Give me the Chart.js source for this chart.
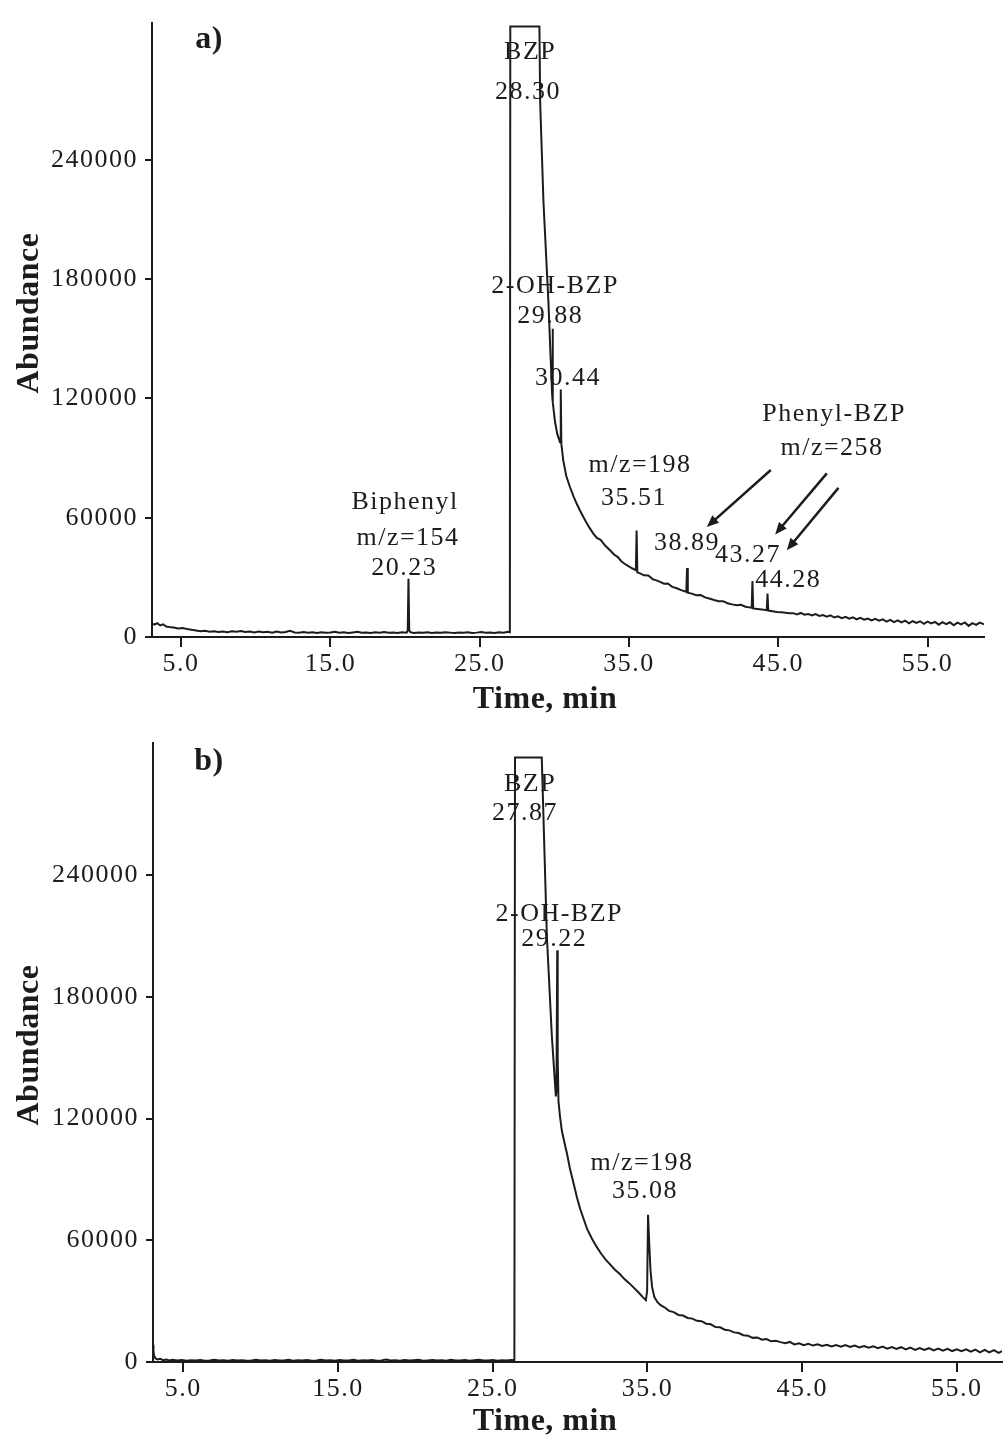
<!DOCTYPE html>
<html>
<head>
<meta charset="utf-8">
<script src="https://cdn.jsdelivr.net/npm/chart.js@4.4.1/dist/chart.umd.min.js"></script>
<style>
  body { margin: 0; background: #fff; }
  canvas { display: block; }
</style>
</head>
<body>
<canvas id="chart-a" width="1004" height="720"></canvas>
<canvas id="chart-b" width="1004" height="719"></canvas>
<script>
// tick labels
const xTicks = [5, 15, 25, 35, 45, 55];
const yTicks = [0, 60000, 120000, 180000, 240000];

// panel a) retention time (min) and abundance
const timeA = [
  3.05, 3.2, 3.4, 3.6, 3.8, 4.0, 4.2, 4.5, 4.8, 5.1,
  5.4, 5.7, 6.0, 6.3, 6.6, 6.9, 7.2, 7.5, 7.8, 8.1,
  8.4, 8.7, 9.0, 9.3, 9.6, 9.9, 10.2, 10.5, 10.8, 11.1,
  11.4, 11.7, 12.0, 12.3, 12.6, 12.9, 13.2, 13.5, 13.8, 14.1,
  14.4, 14.7, 15.0, 15.3, 15.6, 15.9, 16.2, 16.5, 16.8, 17.1,
  17.4, 17.7, 18.0, 18.3, 18.6, 18.9, 19.2, 19.5, 19.8, 20.1,
  20.18, 20.23, 20.28, 20.35, 20.6, 20.9, 21.2, 21.5, 21.8, 22.1,
  22.4, 22.7, 23.0, 23.3, 23.6, 23.9, 24.2, 24.5, 24.8, 25.1,
  25.4, 25.7, 26.0, 26.3, 26.6, 26.9, 27.02, 27.05, 29.0, 29.05,
  29.27, 29.6, 29.78, 29.85, 29.88, 29.91, 30.05, 30.2, 30.38, 30.43,
  30.47, 30.6, 30.8, 31.05, 31.3, 31.5, 31.72, 31.9, 32.1, 32.35,
  32.6, 32.85, 33.1, 33.4, 33.73, 34.0, 34.25, 34.5, 34.85, 35.1,
  35.3, 35.46, 35.51, 35.56, 35.78, 36.0, 36.3, 36.6, 36.8, 37.08,
  37.35, 37.6, 37.9, 38.2, 38.5, 38.84, 38.89, 38.94, 39.2, 39.5,
  39.8, 40.1, 40.43, 40.7, 41.0, 41.3, 41.6, 41.9, 42.22, 42.5,
  42.8, 43.05, 43.22, 43.27, 43.32, 43.6, 43.9, 44.23, 44.28, 44.33,
  44.6, 44.9, 45.2, 45.5, 45.75, 46.0, 46.25, 46.5, 46.75, 47.0,
  47.25, 47.5, 47.75, 48.0, 48.25, 48.5, 48.75, 49.0, 49.25, 49.5,
  49.75, 50.0, 50.25, 50.5, 50.75, 51.0, 51.25, 51.5, 51.75, 52.0,
  52.25, 52.5, 52.75, 53.0, 53.25, 53.5, 53.75, 54.0, 54.25, 54.5,
  54.75, 55.0, 55.25, 55.5, 55.75, 56.0, 56.25, 56.5, 56.75, 57.0,
  57.25, 57.5, 57.75, 58.0, 58.25, 58.5, 58.78
];
const abundanceA = [
  6800, 6200, 6900, 5800, 6400, 5300, 5000, 4800, 4300, 4500,
  4000, 3600, 3300, 2900, 3100, 2600, 2900, 2500, 2800, 2400,
  2900, 2700, 3000, 2500, 2800, 2300, 2700, 2400, 2600, 2200,
  2700, 2300, 2500, 3100, 2300, 2100, 2500, 2200, 2400, 2000,
  2400, 2100, 2300, 2600, 2100, 2400, 2000, 2300, 2600, 2100,
  2300, 2000, 2400, 2200, 2500, 2100, 2300, 2000, 2400, 2200,
  3200, 29300, 3500, 2400, 2000, 2300, 2100, 2400, 2000, 2300,
  2100, 2400, 2200, 2000, 2300, 2100, 2400, 2000, 2200, 2500,
  2100, 2300, 2000, 2400, 2200, 2600, 2400, 307000, 307000, 269000,
  219000, 169000, 135000, 122000, 155000, 118000, 108000, 102000, 98000, 124500,
  97000, 88700, 81000, 75300, 70500, 67000, 63600, 61000, 58200, 55000,
  52100, 49800, 48900, 46000, 43600, 41500, 40200, 38000, 36100, 35000,
  34200, 33600, 53600, 32500, 31900, 31000, 30900, 29000, 28600, 27700,
  26800, 26900, 25200, 24500, 23600, 22700, 34700, 22300, 21800, 21000,
  21100, 19900, 19200, 18600, 18000, 18000, 17000, 16400, 16000, 16200,
  15200, 14900, 14700, 28100, 14400, 14100, 13800, 13500, 21900, 13300,
  13000, 12600, 12500, 12200, 12000, 12000, 11400, 12100, 11200, 11600,
  10800, 11500, 10600, 11000, 10200, 10900, 9800, 10400, 9500, 10100,
  9200, 9900, 8900, 9600, 8700, 9300, 8300, 9100, 8200, 8900,
  7700, 8600, 7500, 8400, 7300, 8200, 6900, 8000, 7100, 7900,
  6600, 7700, 6800, 7600, 6200, 7500, 6500, 7400, 5900, 7200,
  6300, 7300, 5600, 7000, 6100, 7200, 6400
];

// panel b) retention time (min) and abundance
const timeB = [
  3.04, 3.07, 3.12, 3.2, 3.35, 3.5, 3.7, 3.9, 4.1, 4.3,
  4.6, 4.9, 5.2, 5.5, 5.8, 6.1, 6.4, 6.7, 7.0, 7.3,
  7.6, 7.9, 8.2, 8.5, 8.8, 9.1, 9.4, 9.7, 10.0, 10.3,
  10.6, 10.9, 11.2, 11.5, 11.8, 12.1, 12.4, 12.7, 13.0, 13.3,
  13.6, 13.9, 14.2, 14.5, 14.8, 15.1, 15.4, 15.7, 16.0, 16.3,
  16.6, 16.9, 17.2, 17.5, 17.8, 18.1, 18.4, 18.7, 19.0, 19.3,
  19.6, 19.9, 20.2, 20.5, 20.8, 21.1, 21.4, 21.7, 22.0, 22.3,
  22.6, 22.9, 23.2, 23.5, 23.8, 24.1, 24.4, 24.7, 25.0, 25.3,
  25.6, 25.9, 26.2, 26.4, 26.44, 28.17, 28.5, 28.82, 29.08, 29.12,
  29.17, 29.2, 29.25, 29.35, 29.47, 29.6, 29.7, 29.8, 30.0, 30.22,
  30.45, 30.66, 30.9, 31.1, 31.4, 31.7, 32.0, 32.3, 32.6, 32.9,
  33.2, 33.5, 33.8, 34.1, 34.4, 34.7, 34.9, 34.98, 35.04, 35.12,
  35.2, 35.3, 35.45, 35.65, 35.85, 36.1, 36.4, 36.7, 37.0, 37.3,
  37.6, 37.9, 38.2, 38.5, 38.8, 39.1, 39.4, 39.7, 40.0, 40.3,
  40.6, 40.9, 41.2, 41.5, 41.8, 42.1, 42.4, 42.7, 43.0, 43.3,
  43.6, 43.9, 44.2, 44.5, 44.8, 45.1, 45.4, 45.7, 46.0, 46.3,
  46.6, 46.9, 47.2, 47.5, 47.8, 48.1, 48.4, 48.7, 49.0, 49.3,
  49.6, 49.9, 50.2, 50.5, 50.8, 51.1, 51.4, 51.7, 52.0, 52.3,
  52.6, 52.9, 53.2, 53.5, 53.8, 54.1, 54.4, 54.7, 55.0, 55.3,
  55.6, 55.9, 56.2, 56.5, 56.8, 57.1, 57.4, 57.7, 57.92
];
const abundanceB = [
  8500, 5200, 2900, 1800, 1300, 1600, 900, 1200, 800, 1100,
  700, 1000, 600, 900, 700, 1000, 600, 800, 1100, 700,
  900, 600, 1000, 700, 900, 600, 800, 1100, 700, 900,
  600, 1000, 700, 800, 1100, 600, 900, 700, 1000, 600,
  800, 1100, 700, 900, 600, 1000, 800, 700, 1100, 600,
  900, 700, 1000, 600, 800, 1200, 700, 900, 600, 1000,
  700, 900, 1100, 600, 800, 1000, 700, 900, 600, 1100,
  800, 700, 1000, 600, 900, 1100, 700, 800, 1000, 600,
  900, 700, 1000, 900, 298000, 298000, 210000, 161000, 131000, 134000,
  203000, 150000, 128700, 121000, 114000, 109500, 106000, 102800, 95000, 88300,
  81000, 75300, 70000, 65600, 61000, 57000, 53500, 50500, 48000, 45500,
  43500, 41000, 39000, 36800, 34500, 32000, 30500, 35000, 72600, 58000,
  45000, 37000, 32000, 29500, 28000, 27000, 25200, 24600, 23200, 22900,
  21700, 21400, 20300, 20100, 18900, 18600, 17200, 17100, 15900, 15600,
  14600, 14300, 13200, 13000, 11900, 12100, 11000, 11300, 10200, 10500,
  9800, 9300, 9900, 8700, 9200, 8300, 9000, 8100, 8700, 7900,
  8500, 7700, 8400, 7600, 8300, 7400, 8100, 7200, 7900, 7000,
  7700, 6800, 7600, 6600, 7400, 6400, 7300, 6200, 7100, 6000,
  6900, 5900, 6800, 5700, 6600, 5600, 6500, 5400, 6300, 5300,
  6200, 5100, 6100, 4800, 6000, 4700, 5900, 4500, 5300
];

// peak annotations: text placed at (time, abundance)
const peakLabelsA = [
  { text: 'BZP', t: 28.38, v: 294000 },
  { text: '28.30', t: 28.24, v: 274000 },
  { text: '2-OH-BZP', t: 30.05, v: 176400 },
  { text: '29.88', t: 29.72, v: 161300 },
  { text: '30.44', t: 30.92, v: 130300 },
  { text: 'Biphenyl', t: 20.0, v: 67600 },
  { text: 'm/z=154', t: 20.2, v: 49600 },
  { text: '20.23', t: 19.94, v: 34600 },
  { text: 'm/z=198', t: 35.74, v: 86200 },
  { text: '35.51', t: 35.34, v: 69600 },
  { text: 'Phenyl-BZP', t: 48.74, v: 112200 },
  { text: 'm/z=258', t: 48.6, v: 95200 },
  { text: '38.89', t: 38.89, v: 47100 },
  { text: '43.27', t: 42.98, v: 41100 },
  { text: '44.28', t: 45.66, v: 28600 }
];
const arrowsA = [
  { from: [44.5, 84000], to: [40.21, 55300] },
  { from: [48.25, 82300], to: [44.79, 51600] },
  { from: [49.03, 75000], to: [45.57, 43600] }
];
const peakLabelsB = [
  { text: 'BZP', t: 27.41, v: 285000 },
  { text: '27.87', t: 27.09, v: 270500 },
  { text: '2-OH-BZP', t: 29.3, v: 221000 },
  { text: '29.22', t: 28.98, v: 208400 },
  { text: 'm/z=198', t: 34.65, v: 98000 },
  { text: '35.08', t: 34.85, v: 84400 }
];

const INK = '#1c1c1c';
const SERIF = '"Liberation Serif", "Times New Roman", serif';

// a little letter spacing like the scanned figure
const spacing = {
  id: 'spacing',
  beforeDraw(chart) { chart.ctx.letterSpacing = '1.5px'; },
  afterDraw(chart) { chart.ctx.letterSpacing = '0px'; }
};

// draws the peak labels, arrows, panel letter and axis titles
const chromText = {
  id: 'chromText',
  afterDraw(chart, args, opts) {
    const { ctx } = chart;
    const x = chart.scales.x;
    const y = chart.scales.y;
    ctx.save();
    ctx.fillStyle = INK;
    ctx.strokeStyle = INK;
    ctx.textAlign = 'center';
    ctx.textBaseline = 'middle';
    ctx.letterSpacing = '1.5px';
    ctx.font = '26px ' + SERIF;
    opts.labels.forEach(l => {
      ctx.fillText(l.text, x.getPixelForValue(l.t), y.getPixelForValue(l.v));
    });

    (opts.arrows || []).forEach(a => {
      const x1 = x.getPixelForValue(a.from[0]), y1 = y.getPixelForValue(a.from[1]);
      const x2 = x.getPixelForValue(a.to[0]), y2 = y.getPixelForValue(a.to[1]);
      const ang = Math.atan2(y2 - y1, x2 - x1);
      const head = 13;
      ctx.lineWidth = 2.5;
      ctx.beginPath();
      ctx.moveTo(x1, y1);
      ctx.lineTo(x2 - Math.cos(ang) * head * 0.8, y2 - Math.sin(ang) * head * 0.8);
      ctx.stroke();
      ctx.beginPath();
      ctx.moveTo(x2, y2);
      ctx.lineTo(x2 - head * Math.cos(ang - 0.4), y2 - head * Math.sin(ang - 0.4));
      ctx.lineTo(x2 - head * Math.cos(ang + 0.4), y2 - head * Math.sin(ang + 0.4));
      ctx.closePath();
      ctx.fill();
    });

    ctx.letterSpacing = '0.5px';
    ctx.font = 'bold 32px ' + SERIF;
    ctx.fillText(opts.panel.text, opts.panel.x, opts.panel.y);
    ctx.fillText('Time, min', opts.xTitle.x, opts.xTitle.y);
    ctx.translate(opts.yTitle.x, opts.yTitle.y);
    ctx.rotate(-Math.PI / 2);
    ctx.fillText('Abundance', 0, 0);
    ctx.restore();
  }
};

function makeChart(id, times, values, cfg) {
  return new Chart(document.getElementById(id), {
    type: 'line',
    data: {
      datasets: [{
        data: times.map((t, i) => ({ x: t, y: values[i] })),
        borderColor: INK,
        borderWidth: 2,
        pointRadius: 0,
        tension: 0,
        fill: false
      }]
    },
    options: {
      responsive: false,
      animation: false,
      layout: { padding: { top: cfg.top, right: cfg.right, left: 0, bottom: 0 } },
      plugins: {
        legend: { display: false },
        tooltip: { enabled: false },
        chromText: cfg.text
      },
      scales: {
        x: {
          type: 'linear',
          min: cfg.xMin,
          max: cfg.xMax,
          afterBuildTicks: s => { s.ticks = xTicks.map(v => ({ value: v })); },
          afterFit: s => { s.height = cfg.xHeight; },
          border: { display: true, color: INK, width: 2 },
          grid: { drawOnChartArea: false, drawTicks: true, tickLength: 10, color: INK, lineWidth: 2 },
          ticks: {
            autoSkip: false, maxRotation: 0, padding: 2, color: INK,
            font: { family: SERIF, size: 26 },
            callback: v => v.toFixed(1)
          }
        },
        y: {
          min: 0,
          max: cfg.yMax,
          afterBuildTicks: s => { s.ticks = yTicks.map(v => ({ value: v })); },
          afterFit: s => { s.width = cfg.yWidth; },
          border: { display: true, color: INK, width: 2 },
          grid: { drawOnChartArea: false, drawTicks: true, tickLength: 7, color: INK, lineWidth: 2 },
          ticks: {
            autoSkip: false, padding: 7, color: INK,
            font: { family: SERIF, size: 26 },
            callback: v => String(v)
          }
        }
      }
    },
    plugins: [spacing, chromText]
  });
}

makeChart('chart-a', timeA, abundanceA, {
  top: 20, right: 20, xHeight: 83, yWidth: 152,
  xMin: 3.05, xMax: 58.78, yMax: 309000,
  text: {
    labels: peakLabelsA, arrows: arrowsA,
    panel: { text: 'a)', x: 209, y: 40 },
    xTitle: { x: 545, y: 700 },
    yTitle: { x: 30, y: 313 }
  }
});

makeChart('chart-b', timeB, abundanceB, {
  top: 13, right: 2, xHeight: 77, yWidth: 153,
  xMin: 3.04, xMax: 57.92, yMax: 305400,
  text: {
    labels: peakLabelsB,
    panel: { text: 'b)', x: 209, y: 42 },
    xTitle: { x: 545, y: 702 },
    yTitle: { x: 30, y: 325 }
  }
});
</script>
</body>
</html>
